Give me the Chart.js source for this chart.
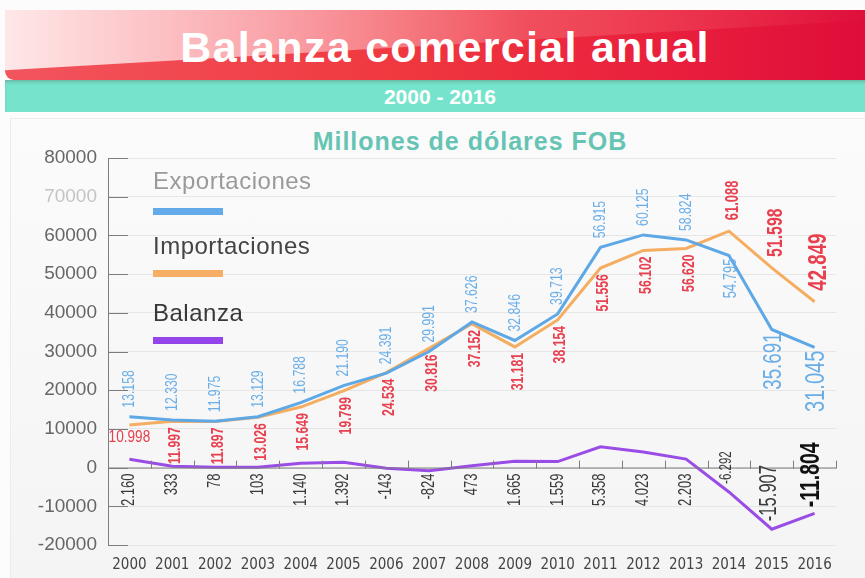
<!DOCTYPE html>
<html>
<head>
<meta charset="utf-8">
<script src="https://cdn.jsdelivr.net/npm/chart.js@4.4.1/dist/chart.umd.min.js"></script>
<style>
  html, body { margin:0; padding:0; background:#fdfcfc; }
  #wrap { position:relative; width:865px; height:578px; overflow:hidden; font-family:"Liberation Sans", Arial, sans-serif; }
  #banner { position:absolute; left:5px; top:10px; width:870px; height:70px; border-bottom-left-radius:9px; overflow:hidden;
    background:linear-gradient(90deg,#f2555e 0%,#f0383f 45%,#e81c3c 80%,#de0c3a 100%); }
  #banner .hl { position:absolute; left:0; top:0; right:0; bottom:0;
    background:linear-gradient(90deg,rgba(255,236,236,0.97) 0%,rgba(252,190,195,0.8) 30%,rgba(245,120,130,0.45) 60%,rgba(235,40,70,0) 100%);
    clip-path:polygon(0 0,100% 0,100% 14%,0 86%); }
  #banner .t { position:absolute; left:0; width:880px; top:13px; text-align:center; color:#fff; font-weight:bold; font-size:43px; letter-spacing:1.3px; }
  #band { position:absolute; left:5px; top:80px; width:870px; height:32px; background:#76e4cc; box-shadow:inset 0 3px 4px -2px rgba(60,40,40,0.35); }
  #band .t { position:absolute; left:0; width:870px; top:5px; text-align:center; color:#fff; font-weight:bold; font-size:21px; }
  #panel { position:absolute; left:10px; top:118px; width:860px; height:470px; border:1px solid #ececec;
    background:linear-gradient(180deg,#fbfbfb 0%,#f4f4f4 100%); }
  #sub { position:absolute; left:0; width:940px; top:127px; text-align:center; color:#66c4b4; font-weight:bold; font-size:25px; letter-spacing:1px; }
  canvas { position:absolute; left:0; top:0; }
</style>
</head>
<body>
<div id="wrap">
  <div id="banner"><div class="hl"></div><div class="t">Balanza comercial anual</div></div>
  <div id="band"><div class="t">2000 - 2016</div></div>
  <div id="panel"></div>
  <div id="sub">Millones de dólares FOB</div>
  <canvas id="c" width="865" height="578"></canvas>
</div>
<script>
var years = ['2000','2001','2002','2003','2004','2005','2006','2007','2008','2009','2010','2011','2012','2013','2014','2015','2016'];
var exportaciones = [13158, 12330, 11975, 13129, 16788, 21190, 24391, 29991, 37626, 32846, 39713, 56915, 60125, 58824, 54795, 35691, 31045];
var importaciones = [10998, 11997, 11897, 13026, 15649, 19799, 24534, 30816, 37152, 31181, 38154, 51556, 56102, 56620, 61088, 51598, 42849];
var balanza = [2160, 333, 78, 103, 1140, 1392, -143, -824, 473, 1665, 1559, 5358, 4023, 2203, -6292, -15907, -11804];
var yTicks = [-20000, -10000, 0, 10000, 20000, 30000, 40000, 50000, 60000, 70000, 80000];

var SANS = '"Liberation Sans", Arial, sans-serif';
var COND = '"DejaVu Sans Condensed", "Liberation Sans", sans-serif';

function fmt(v){
  var s = Math.abs(v).toString().replace(/\B(?=(\d{3})+(?!\d))/g, '.');
  return (v < 0 ? '-' : '') + s;
}

// label placement per series: 'up' = above the anchor, 'down' = below
var expPos = years.map(function(y, i){ return i >= 14 ? 'down' : 'up'; });
var impPos = years.map(function(y, i){ return i === 0 ? 'flat' : (i >= 14 ? 'up' : 'down'); });
var balPos = years.map(function(y, i){ return i >= 14 ? 'up' : 'zero'; });
// the last years are printed larger in the original
var expSize = [17,17,17,17,17,17,17,17,17,17,17,17,17,17,18,26,28];
var impSize = [16,17,17,17,17,17,17,17,17,17,17,17,17,17,18,22,26];
var balSize = [18,18,18,18,18,18,18,18,18,18,18,18,18,18,16,23,27];

var labelPlugin = {
  id: 'labels',
  afterDatasetsDraw: function(chart){
    var ctx = chart.ctx, xs = chart.scales.x, ys = chart.scales.y;
    var area = chart.chartArea;
    ctx.save();
    // zero axis with ticks
    var y0 = ys.getPixelForValue(0);
    ctx.strokeStyle = '#7d7d7d'; ctx.lineWidth = 1;
    ctx.beginPath(); ctx.moveTo(area.left, y0 + 0.5); ctx.lineTo(area.right, y0 + 0.5); ctx.stroke();
    var step = (area.right - area.left) / years.length;
    for (var k = 1; k <= years.length; k++) {
      var tx = Math.round(area.left + step * k) + 0.5;
      ctx.beginPath(); ctx.moveTo(tx, y0 - 7); ctx.lineTo(tx, y0 + 1); ctx.stroke();
    }
    // y ticks pointing inward
    yTicks.forEach(function(v){
      var ty = Math.round(ys.getPixelForValue(v)) + 0.5;
      ctx.beginPath(); ctx.moveTo(area.left, ty); ctx.lineTo(area.left + 20, ty); ctx.stroke();
    });

    // rotated, narrowed text (reads bottom to top)
    function vtext(txt, x, y, dir, font, color){
      ctx.save();
      ctx.translate(x, y);
      ctx.rotate(-Math.PI / 2);
      ctx.scale(0.72, 1);
      ctx.font = font; ctx.fillStyle = color;
      ctx.textBaseline = 'middle';
      ctx.textAlign = dir === 'up' ? 'left' : 'right';
      ctx.fillText(txt, 0, 0);
      ctx.restore();
    }

    years.forEach(function(yr, i){
      var x = xs.getPixelForValue(i);
      // exports
      var ye = ys.getPixelForValue(exportaciones[i]);
      var ef = expSize[i] + 'px ' + SANS;
      if (expPos[i] === 'up') vtext(fmt(exportaciones[i]), x, ye - 9, 'up', ef, '#6aaee8');
      else vtext(fmt(exportaciones[i]), x + 2, ye + 3, 'down', ef, '#6aaee8');
      // imports
      var yi = ys.getPixelForValue(importaciones[i]);
      var imf = 'bold ' + impSize[i] + 'px ' + SANS;
      if (impPos[i] === 'flat') {
        ctx.save();
        ctx.translate(x, yi + 13); ctx.scale(0.85, 1);
        ctx.font = impSize[i] + 'px ' + SANS; ctx.fillStyle = '#e8404f'; ctx.textAlign = 'center'; ctx.textBaseline = 'middle';
        ctx.fillText(fmt(importaciones[i]), 0, 0);
        ctx.restore();
      } else if (impPos[i] === 'up') vtext(fmt(importaciones[i]), x + 4, yi - 11, 'up', imf, '#e8404f');
      else vtext(fmt(importaciones[i]), x + 3, yi + 6, 'down', imf, '#e8404f');
      // balance
      var yb = ys.getPixelForValue(balanza[i]);
      var bf = (i === 16 ? 'bold ' : '') + balSize[i] + 'px ' + SANS;
      if (balPos[i] === 'zero') vtext(fmt(balanza[i]), x, y0 + 6, 'down', bf, '#3a3a3a');
      else if (i === 16) vtext(fmt(balanza[i]), x - 3, yb - 6, 'up', bf, '#111');
      else vtext(fmt(balanza[i]), x - 2, yb - 8, 'up', bf, '#3a3a3a');
    });

    // legend
    var lg = [
      { t: 'Exportaciones', c: '#9a9a9a', bar: '#62aaea', ty: 182, by: 208 },
      { t: 'Importaciones', c: '#444', bar: '#f6ae64', ty: 247, by: 270 },
      { t: 'Balanza', c: '#383838', bar: '#9344ea', ty: 314, by: 337 }
    ];
    lg.forEach(function(l){
      ctx.font = '24px ' + SANS;
      ctx.letterSpacing = '0.5px';
      ctx.fillStyle = l.c; ctx.textAlign = 'left'; ctx.textBaseline = 'middle';
      ctx.fillText(l.t, 153, l.ty);
      ctx.letterSpacing = '0px';
      ctx.fillStyle = l.bar;
      ctx.fillRect(153, l.by, 70, 7);
    });
    ctx.restore();
  }
};

new Chart(document.getElementById('c'), {
  type: 'line',
  data: {
    labels: years,
    datasets: [
      { label: 'Exportaciones', data: exportaciones, borderColor: '#5ea8e6', borderWidth: 3, pointRadius: 0, tension: 0, fill: false },
      { label: 'Importaciones', data: importaciones, borderColor: '#f5ad62', borderWidth: 3, pointRadius: 0, tension: 0, fill: false },
      { label: 'Balanza', data: balanza, borderColor: '#9a4ce6', borderWidth: 3, pointRadius: 0, tension: 0, fill: false }
    ]
  },
  options: {
    responsive: false,
    animation: false,
    layout: { padding: { left: 0, right: 29, top: 158, bottom: 0 } },
    plugins: { legend: { display: false }, title: { display: false }, tooltip: { enabled: false } },
    scales: {
      x: {
        offset: true,
        grid: { display: false },
        border: { display: false },
        ticks: { color: '#444', font: { family: COND, size: 15 }, padding: 3, maxRotation: 0 },
        afterFit: function(s){ s.height = 33; }
      },
      y: {
        min: -20000, max: 80000,
        afterBuildTicks: function(s){ s.ticks = yTicks.map(function(v){ return { value: v }; }); },
        grid: { color: '#e6e6e6', drawTicks: false },
        border: { display: true, color: '#7d7d7d' },
        ticks: {
          padding: 11,
          callback: function(v){ return String(v); },
          color: function(c){ return c.tick && c.tick.value === 70000 ? '#c4c4c4' : '#666'; },
          font: { family: SANS, size: 19 }
        },
        afterFit: function(s){ s.width = 108; }
      }
    }
  },
  plugins: [labelPlugin]
});
</script>
</body>
</html>
